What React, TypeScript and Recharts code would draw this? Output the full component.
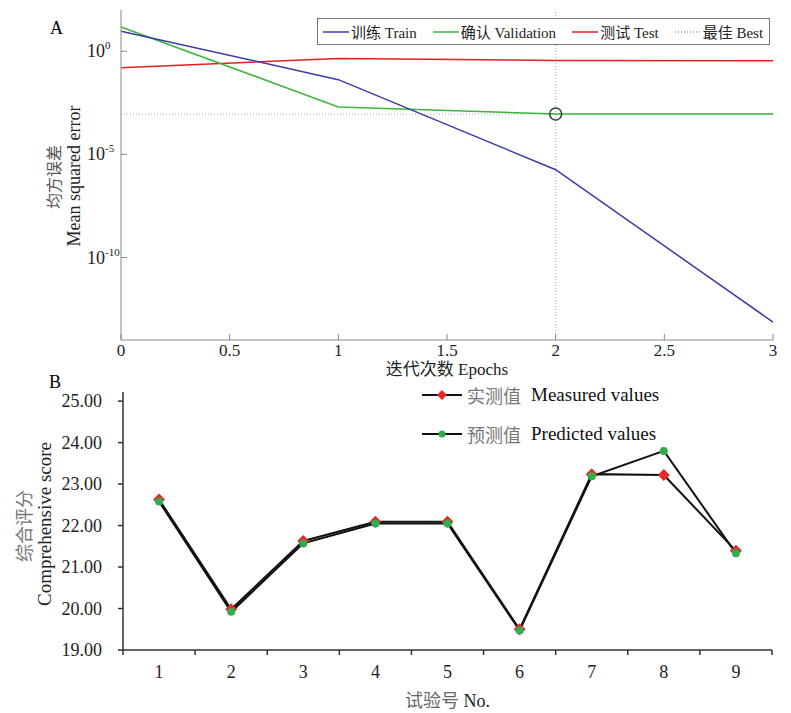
import React from "react";
import {
  LineChart,
  Line,
  XAxis,
  YAxis,
  ReferenceLine,
  ReferenceDot,
  Legend,
} from "recharts";

const FONT = "'Liberation Serif', 'Noto Sans CJK SC', serif";

// panel A: network training error per epoch
const epochs = [0, 1, 2, 3];
const trainMse = [9.4, 0.042, 1.8e-6, 7.4e-14];
const validationMse = [15, 2.0e-3, 9.0e-4, 9.0e-4];
const testMse = [0.16, 0.44, 0.36, 0.35];
const bestEpoch = 2;
const bestMse = 9.0e-4;
const epochTicks = [0, 0.5, 1, 1.5, 2, 2.5, 3];
const mseTicks = [1e-10, 1e-5, 1];

// panel B: measured vs predicted comprehensive score
const trials = [1, 2, 3, 4, 5, 6, 7, 8, 9];
const measured = [22.63, 19.98, 21.63, 22.09, 22.09, 19.5, 23.24, 23.22, 21.39];
const predicted = [22.58, 19.92, 21.57, 22.05, 22.05, 19.47, 23.19, 23.8, 21.33];
const trialTicks = [0.5, 1, 1.5, 2, 2.5, 3, 3.5, 4, 4.5, 5, 5.5, 6, 6.5, 7, 7.5, 8, 8.5, 9, 9.5];
const scoreTicks = [19, 20, 21, 22, 23, 24, 25];

const lossLegend = [
  { label: "训练 Train", color: "#3a3aa8", dash: undefined as string | undefined },
  { label: "确认 Validation", color: "#3cb53c", dash: undefined },
  { label: "测试 Test", color: "#e02020", dash: undefined },
  { label: "最佳 Best", color: "#999", dash: "1 2" },
];

const RED = "#e8262b";
const GREEN = "#2fae4e";

const mseRows = epochs.map((e, i) => ({
  epoch: e,
  train: trainMse[i],
  validation: validationMse[i],
  test: testMse[i],
}));

const scoreRows = trials.map((t, i) => ({
  trial: t,
  measured: measured[i],
  predicted: predicted[i],
}));

function EpochTick({ x, y, payload }: any) {
  return (
    <g>
      <line x1={x} y1={y} x2={x} y2={y - 6} stroke="#888" />
      <text x={x} y={y + 16} textAnchor="middle" fontSize={17} fill="#222" fontFamily={FONT}>
        {payload.value}
      </text>
    </g>
  );
}

function MseTick({ x, y, payload }: any) {
  const exp = Math.round(Math.log10(payload.value));
  return (
    <g>
      <line x1={x} y1={y} x2={x + 6} y2={y} stroke="#888" />
      <text x={x - 34} y={y + 6} textAnchor="start" fontSize={18} fill="#222" fontFamily={FONT}>
        10
        <tspan dy={-8} fontSize={11}>
          {exp}
        </tspan>
      </text>
    </g>
  );
}

function TrialTick({ x, y, payload }: any) {
  if (!Number.isInteger(payload.value)) {
    return <line x1={x} y1={y} x2={x} y2={y + 5} stroke="#333" strokeWidth={1.5} />;
  }
  return (
    <text x={x} y={y + 28} textAnchor="middle" fontSize={18} fill="#222" fontFamily={FONT}>
      {payload.value}
    </text>
  );
}

function ScoreTick({ x, y, payload }: any) {
  return (
    <g>
      <line x1={x} y1={y} x2={x - 5} y2={y} stroke="#333" strokeWidth={1.5} />
      <text x={x - 21} y={y + 6} textAnchor="end" fontSize={18} fill="#222" fontFamily={FONT}>
        {payload.value.toFixed(2)}
      </text>
    </g>
  );
}

function MseAxisTitle({ viewBox }: any) {
  const cy = viewBox.y + viewBox.height / 2;
  return (
    <g fontFamily={FONT}>
      <text transform={`translate(${viewBox.x + 60}, ${cy + 2}) rotate(-90)`} textAnchor="middle" fontSize={16} fill="#555">
        均方误差
      </text>
      <text transform={`translate(${viewBox.x + 80}, ${cy + 1}) rotate(-90)`} textAnchor="middle" fontSize={18} fill="#222">
        Mean squared error
      </text>
    </g>
  );
}

function EpochAxisTitle({ viewBox }: any) {
  return (
    <text x={viewBox.x + viewBox.width / 2} y={viewBox.y + 35} textAnchor="middle" fontSize={17} fill="#222" fontFamily={FONT}>
      迭代次数 Epochs
    </text>
  );
}

function ScoreAxisTitle({ viewBox }: any) {
  const cy = viewBox.y + viewBox.height / 2;
  return (
    <g fontFamily={FONT}>
      <text transform={`translate(${viewBox.x + 31}, ${cy + 5}) rotate(-90)`} textAnchor="middle" fontSize={18} fill="#777">
        综合评分
      </text>
      <text transform={`translate(${viewBox.x + 51}, ${cy + 3}) rotate(-90)`} textAnchor="middle" fontSize={19} fill="#222">
        Comprehensive score
      </text>
    </g>
  );
}

function TrialAxisTitle({ viewBox }: any) {
  return (
    <text x={viewBox.x + viewBox.width / 2} y={viewBox.y + 57} textAnchor="middle" fontSize={18} fontFamily={FONT}>
      <tspan fill="#666">试验号 </tspan>
      <tspan fill="#222">No.</tspan>
    </text>
  );
}

function Diamond({ cx, cy, size = 6 }: any) {
  if (cx == null || cy == null) return null;
  return (
    <polygon
      points={`${cx},${cy - size} ${cx + size},${cy} ${cx},${cy + size} ${cx - size},${cy}`}
      fill={RED}
    />
  );
}

function GreenDot({ cx, cy }: any) {
  if (cx == null || cy == null) return null;
  return <circle cx={cx} cy={cy} r={4} fill={GREEN} />;
}

function LossLegend() {
  return (
    <div
      style={{
        display: "flex",
        alignItems: "center",
        gap: 16,
        border: "1px solid #777",
        background: "#fff",
        padding: "1px 6px 1px 5px",
        height: 23,
        fontSize: 15,
        color: "#222",
        fontFamily: FONT,
      }}
    >
      {lossLegend.map((item) => (
        <span key={item.label} style={{ display: "flex", alignItems: "center", whiteSpace: "nowrap", fontFamily: FONT }}>
          <svg width={26} height={10}>
            <line x1={0} y1={5} x2={26} y2={5} stroke={item.color} strokeWidth={1.5} strokeDasharray={item.dash} />
          </svg>
          <span style={{ marginLeft: 2, fontFamily: FONT }}>{item.label}</span>
        </span>
      ))}
    </div>
  );
}

function ScoreLegend() {
  const rows = [
    { zh: "实测值", en: "Measured values", marker: <Diamond cx={20} cy={8} size={5} /> },
    { zh: "预测值", en: "Predicted values", marker: <circle cx={20} cy={8} r={3.5} fill={GREEN} /> },
  ];
  return (
    <div style={{ display: "flex", flexDirection: "column", gap: 19, fontFamily: FONT }}>
      {rows.map((r) => (
        <div key={r.en} style={{ display: "flex", alignItems: "center", height: 20, whiteSpace: "nowrap" }}>
          <svg width={40} height={16}>
            <line x1={0} y1={8} x2={40} y2={8} stroke="#111" strokeWidth={2} />
            {r.marker}
          </svg>
          <span style={{ marginLeft: 5, fontSize: 18, color: "#777", fontFamily: FONT }}>{r.zh}</span>
          <span style={{ marginLeft: 10, fontSize: 19, color: "#111", fontFamily: FONT }}>{r.en}</span>
        </div>
      ))}
    </div>
  );
}

export default function App() {
  return (
    <div
      style={{
        position: "absolute",
        left: 0,
        top: 0,
        width: 791,
        height: 713,
        background: "#fff",
        fontFamily: FONT,
      }}
    >
      <div style={{ position: "absolute", left: 50, top: 18, fontSize: 18 }}>A</div>
      <div style={{ position: "absolute", left: 49, top: 372, fontSize: 18 }}>B</div>

      <div style={{ position: "absolute", left: 0, top: 0 }}>
        <LineChart width={791} height={380} data={mseRows} margin={{ top: 10, right: 18, left: 0, bottom: 0 }}>
          <XAxis
            dataKey="epoch"
            type="number"
            domain={[0, 3]}
            ticks={epochTicks}
            interval={0}
            height={40}
            stroke="#888"
            tickSize={0}
            tickMargin={0}
            tick={<EpochTick />}
            label={{ content: <EpochAxisTitle /> }}
          />
          <YAxis
            type="number"
            scale="log"
            domain={[1e-14, 100]}
            allowDataOverflow
            ticks={mseTicks}
            interval={0}
            width={121}
            stroke="#888"
            tickSize={0}
            tickMargin={0}
            tick={<MseTick />}
            label={{ content: <MseAxisTitle /> }}
          />
          <ReferenceLine y={bestMse} stroke="#aaa" strokeDasharray="1 2" />
          <ReferenceLine x={bestEpoch} stroke="#aaa" strokeDasharray="1 2" />
          <Line dataKey="test" type="linear" stroke="#e02020" strokeWidth={1.5} dot={false} isAnimationActive={false} />
          <Line dataKey="validation" type="linear" stroke="#3cb53c" strokeWidth={1.5} dot={false} isAnimationActive={false} />
          <Line dataKey="train" type="linear" stroke="#3a3aa8" strokeWidth={1.5} dot={false} isAnimationActive={false} />
          <ReferenceDot x={bestEpoch} y={bestMse} r={6} fill="none" stroke="#2d4a2d" strokeWidth={1.5} />
          <Legend
            layout="horizontal"
            verticalAlign="middle"
            align="center"
            content={<LossLegend />}
            wrapperStyle={{ left: 317, top: 18, width: "auto" }}
          />
        </LineChart>
      </div>

      <div style={{ position: "absolute", left: 0, top: 380 }}>
        <LineChart width={791} height={333} data={scoreRows} margin={{ top: 12, right: 19, left: 0, bottom: 0 }}>
          <XAxis
            dataKey="trial"
            type="number"
            domain={[0.5, 9.5]}
            ticks={trialTicks}
            interval={0}
            height={63}
            stroke="#333"
            strokeWidth={1.5}
            tickSize={0}
            tickMargin={0}
            tick={<TrialTick />}
            label={{ content: <TrialAxisTitle /> }}
          />
          <YAxis
            type="number"
            domain={[19, 25.22]}
            ticks={scoreTicks}
            interval={0}
            width={123}
            stroke="#333"
            strokeWidth={1.5}
            tickSize={0}
            tickMargin={0}
            tick={<ScoreTick />}
            label={{ content: <ScoreAxisTitle /> }}
          />
          <Line dataKey="measured" type="linear" stroke="#111" strokeWidth={2} dot={<Diamond />} isAnimationActive={false} />
          <Line dataKey="predicted" type="linear" stroke="#111" strokeWidth={2} dot={<GreenDot />} isAnimationActive={false} />
          <Legend
            layout="horizontal"
            verticalAlign="middle"
            align="center"
            content={<ScoreLegend />}
            wrapperStyle={{ left: 422, top: 5, width: "auto" }}
          />
        </LineChart>
      </div>
    </div>
  );
}
